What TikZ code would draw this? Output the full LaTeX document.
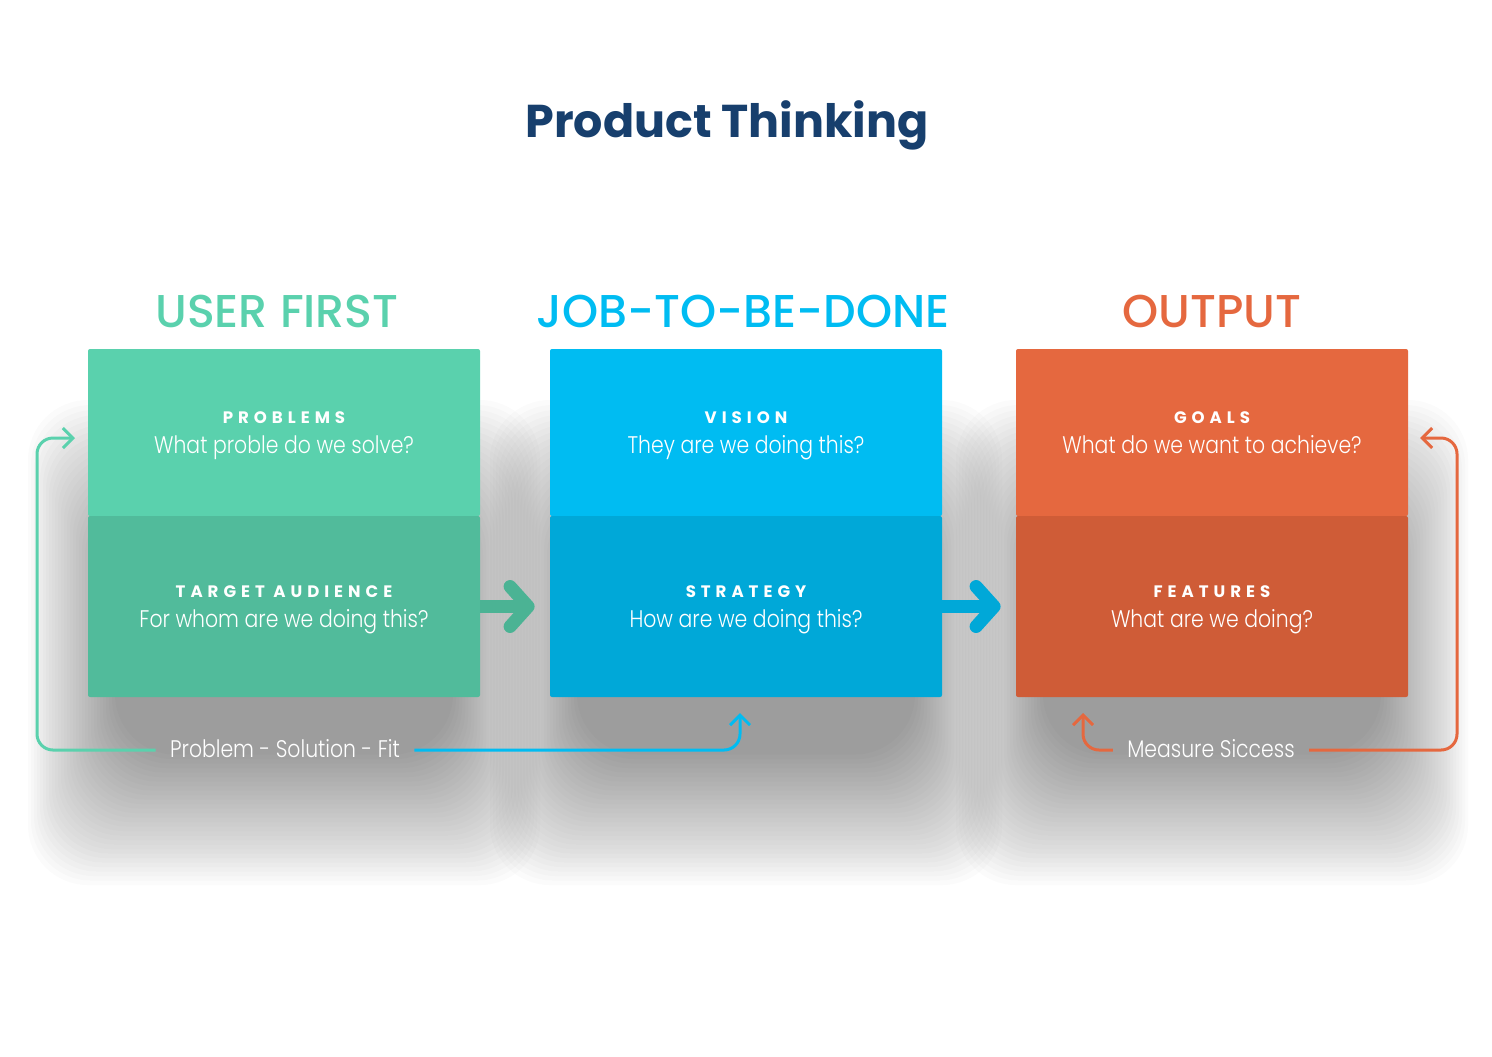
\documentclass[tikz,border=0pt]{standalone}
\usepackage{fontspec}
\setmainfont{Poppins}
\IfFontExistsTF{Poppins Light}{\newfontfamily\bodyfont[FakeStretch=0.85]{Poppins Light}}{\newfontfamily\bodyfont[FakeStretch=0.85]{Poppins}}
\IfFontExistsTF{Poppins Medium}{\newfontfamily\headfont{Poppins Medium}}{\newfontfamily\headfont{Poppins}}
\newfontfamily\labelfont[LetterSpace=30]{Poppins}
\usetikzlibrary{arrows.meta, positioning}

\definecolor{ufgreen}{HTML}{5AD1AD}
\definecolor{ufgreendk}{HTML}{51BB9B}
\definecolor{ufarrow}{HTML}{4BB394}
\definecolor{jbblue}{HTML}{00BCF2}
\definecolor{jbbluedk}{HTML}{00A8D8}
\definecolor{ouorange}{HTML}{E5683F}
\definecolor{ouorangedk}{HTML}{CF5C37}
\definecolor{titleblue}{HTML}{173F6D}

\newcommand{\boxlabel}[1]{\rule{0pt}{9pt}{\labelfont\bfseries\fontsize{8.3}{10}\selectfont #1}}

\begin{document}
\begin{tikzpicture}[x=0.5pt, y=-0.5pt,
    box/.style = {minimum width=196pt, minimum height=83.5pt, inner sep=0pt,
                  align=center, text=white, rounded corners=1pt, text depth=3.3pt,
                  font=\bodyfont\fontsize{12}{15}\selectfont},
    lowbox/.style = {box, minimum height=90.5pt},
    head/.style = {anchor=base, font=\headfont\fontsize{23}{26}\selectfont},
    caption/.style = {anchor=base, text=white, inner xsep=7pt,
                      font=\bodyfont\fontsize{12}{14}\selectfont},
    chevron/.style = {line width=6.5pt, shorten >=7.5pt,
                      -{Straight Barb[length=9pt, width=20pt, round]}},
    feedback/.style = {line width=1.5pt, rounded corners=8pt,
                       -{Straight Barb[length=5pt, width=10pt]}}
]
\useasboundingbox (0,0) rectangle (1492,1056);

% soft shadows below the three columns
\foreach \xa in {88, 550, 1016}
    \foreach \k in {0,...,29}
        \fill[black, opacity=0.017, rounded corners=30pt]
            (\xa-60+3*\k, 400+5*\k) rectangle (\xa+452-3*\k, 885-4.5*\k);

\node (title) [anchor=base, text=titleblue, font=\bfseries\fontsize{23}{26}\selectfont]
    at (727,137) {Product Thinking};

% columns
\node (userfirst) [head, text=ufgreen] at (277,327) {USER FIRST};
\node (jobdone) [head, text=jbblue] at (743,327) {JOB-TO-BE-DONE};
\node (output) [head, text=ouorange] at (1212,327) {OUTPUT};

\node (problems) [box, fill=ufgreen] at (284,432.5)
    {\boxlabel{PROBLEMS}\\What proble do we solve?};
\node (audience) [lowbox, fill=ufgreendk] at (284,606.5)
    {\boxlabel{TARGET AUDIENCE}\\For whom are we doing this?};
\node (vision) [box, fill=jbblue] at (746,432.5)
    {\boxlabel{VISION}\\They are we doing this?};
\node (strategy) [lowbox, fill=jbbluedk] at (746,606.5)
    {\boxlabel{STRATEGY}\\How are we doing this?};
\node (goals) [box, fill=ouorange] at (1212,432.5)
    {\boxlabel{GOALS}\\What do we want to achieve?};
\node (features) [lowbox, fill=ouorangedk] at (1212,606.5)
    {\boxlabel{FEATURES}\\What are we doing?};

\draw [chevron, ufarrow] (audience.east) -- (strategy.west);
\draw [chevron, jbbluedk] (strategy.east) -- (features.west);

% feedback loops
\node (psfit) [caption] at (285,757) {Problem - Solution - Fit};
\node (msucc) [caption] at (1211,757) {Measure Siccess};

\coordinate (gIn) at (75,438);
\coordinate (bIn) at (740,713);
\coordinate (oIn) at (1083,713);
\coordinate (rIn) at (1420,438);

\draw [feedback, ufgreen] (psfit.west |- 0,750) -| ([xshift=-19pt]gIn) -- (gIn);
\draw [feedback, jbblue] (psfit.east |- 0,750) -| (bIn);
\draw [feedback, ouorange] (msucc.west |- 0,750) -| (oIn);
\draw [feedback, ouorange] (msucc.east |- 0,750) -| ([xshift=18.5pt]rIn) -- (rIn);
\end{tikzpicture}
\end{document}
